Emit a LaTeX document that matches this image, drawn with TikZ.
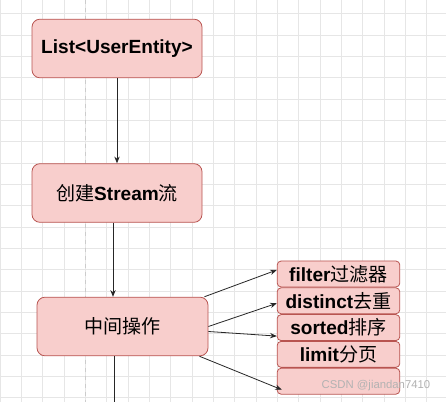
\documentclass[tikz,border=0pt]{standalone}
\usepackage{fontspec}
\setmainfont{Liberation Sans}
\newfontfamily\cjk{Noto Sans CJK SC}
\newcommand{\zh}[1]{{\cjk\mdseries #1}}
\usepackage{tikz}
\usetikzlibrary{calc, positioning}
\usetikzlibrary{shapes, arrows, arrows.meta}
\definecolor{boxfill}{HTML}{F8CECC}
\definecolor{boxline}{HTML}{B85450}
\definecolor{gridline}{HTML}{E6E6E6}
\tikzset{
    auto,node distance =0pt and 0pt,% the operation boxes sit right on top of each other
}

\begin{document}
\begin{tikzpicture}
            [x=0.75pt, y=-0.75pt,
            every node/.style={font=\fontsize{14.3}{17}\selectfont\bfseries},
            bigbox/.style={draw=boxline,fill=boxfill,rounded corners=6pt,minimum width=127.5pt,minimum height=44pt,line width=0.6pt},
            opbox/.style={draw=boxline,fill=boxfill,rounded corners=3pt,minimum width=92pt,minimum height=19.5pt,inner sep=0pt,line width=0.6pt},
            flow/.style={-{Stealth[length=5pt,width=4pt]},line width=0.6pt,black!85}]
            \useasboundingbox[fill=white] (0,0) rectangle (446,402);
            % canvas grid
            \foreach \gx in {0,...,20}
                \draw[gridline,line width=0.5pt] (\gx*21.33,0) -- (\gx*21.33,402);
            \foreach \gy in {0,...,18}
                \draw[gridline,line width=0.5pt] (0,13.7+\gy*21.33) -- (446,13.7+\gy*21.33);
            \draw[gray!40,dashed,line width=0.6pt] (85,0) -- (85,402);
            \node(list) [bigbox] at (117,48.5) {List<UserEntity>};
            \node(stream) [bigbox] at (117,193) {\zh{创建}Stream\zh{流}};
            \node(midop) [bigbox,minimum width=128.25pt] at (122.5,326.5) {\zh{中间操作}};
            \node(filter) [opbox] at (338.5,274) {filter\zh{过滤器}};
            \node(distinct) [opbox,below=of filter] {distinct\zh{去重}};
            \node(sorted) [opbox,below=of distinct] {sorted\zh{排序}};
            \node(limit) [opbox,below=of sorted] {limit\zh{分页}};
            \node(empty) [opbox,below=of limit] {};
            \coordinate (next) at (114,402);
            \draw[flow] (list) -- (stream);
            \draw[flow] ($(stream.south)+(-4,0)$) -- ($(midop.north)+(-9.5,0)$);
            \draw[line width=0.6pt,black!85] ($(midop.south)+(-8.5,0)$) -- (next);
            \draw[flow] ($(midop.north east)+(-4,0)$) -- ($(filter.west)+(0,-4)$);
            \draw[flow] (midop.east) -- ($(distinct.west)+(0,2.5)$);
            \draw[flow] ($(midop.east)+(0,5)$) -- ($(sorted.west)+(0,8.5)$);
            \draw[flow] ($(midop.south east)+(-9,0)$) -- ($(empty.west)+(5,8.5)$);
            \node(mark) [font=\fontsize{8.5}{10}\selectfont,text=gray!60] at (376,386) {CSDN @jiandan7410};
        \end{tikzpicture}
\end{document}
